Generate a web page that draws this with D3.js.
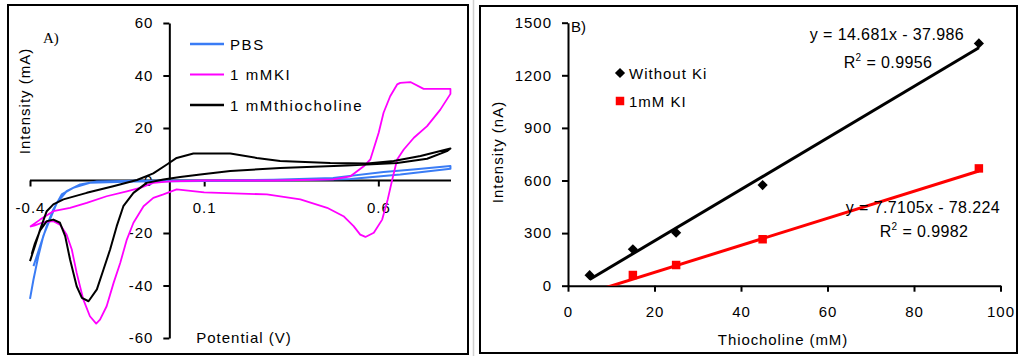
<!DOCTYPE html>
<html>
<head>
<meta charset="utf-8">
<script src="https://cdn.jsdelivr.net/npm/d3@7"></script>
<style>
body { margin: 0; background: #fff; }
svg { display: block; font-family: "Liberation Sans", Arial, sans-serif; }
</style>
</head>
<body>
<svg id="chart" width="1024" height="361"></svg>
<script>
// ---- panel A : cyclic voltammograms (potential V, current mA) ----
var potentialTicks = [-0.4, 0.1, 0.6];
var currentTicks = [-60, -40, -20, 0, 20, 40, 60];
var cvNames = ["PBS", "1 mMKI", "1 mMthiocholine"];
var cvColors = ["#3a7cf5", "#ff00ff", "#000000"];

var pbsCurve = [
  [-0.4,-45.1],[-0.39,-37.7],[-0.376,-28.8],[-0.362,-21.2],[-0.343,-14.9],[-0.323,-8.5],
  [-0.295,-4.1],[-0.256,-1.5],[-0.208,-0.4],[-0.1,-0.1],[0.1,0],[0.3,0.3],[0.47,1.0],
  [0.615,3.2],[0.7,4.2],[0.807,5.5],[0.807,4.5],[0.663,2.3],[0.52,0.6],[0.35,0.1],
  [0.1,-0.2],[-0.1,-0.4],[-0.228,-0.9],[-0.276,-2.8],[-0.309,-5.3],[-0.333,-11],
  [-0.352,-17.4],[-0.371,-25],[-0.39,-32.6]
];

var kiCurve = [
  [-0.4,-17.6],[-0.371,-14.9],[-0.333,-11.7],[-0.285,-10.4],[-0.237,-8.5],[-0.18,-6],
  [-0.122,-4.1],[-0.084,-2.8],[-0.046,-0.9],[0.002,-0.3],[0.1,0],[0.3,0],[0.47,0.4],
  [0.52,1.6],[0.558,5.4],[0.577,8],[0.601,18.2],[0.615,25.8],[0.634,32.1],[0.654,36.6],
  [0.663,37.2],[0.692,37.5],[0.73,34.9],[0.807,34.9],[0.807,33],[0.778,27],[0.74,20.7],
  [0.702,16.3],[0.673,11.8],[0.654,8],[0.64,0.4],[0.627,-7.2],[0.611,-14.9],[0.587,-19.9],
  [0.563,-21.5],[0.548,-20.6],[0.529,-17.4],[0.5,-13.6],[0.453,-10.4],[0.376,-7.2],
  [0.28,-5.3],[0.1,-4.5],[0.021,-3.4],[-0.017,-5.3],[-0.046,-6.6],[-0.074,-9.8],
  [-0.103,-16.1],[-0.122,-22.5],[-0.141,-31.4],[-0.16,-39],[-0.18,-47.9],[-0.199,-53],
  [-0.21,-54.5],[-0.228,-51.7],[-0.247,-45.3],[-0.266,-35.2],[-0.28,-26.3],[-0.295,-20.6],
  [-0.314,-16.8],[-0.333,-15.5],[-0.362,-15.9],[-0.386,-17.1],[-0.4,-17.6]
];

var thioCurve = [
  [-0.4,-30.7],[-0.386,-25],[-0.371,-18.7],[-0.352,-11.7],[-0.333,-9.1],[-0.304,-7.2],
  [-0.237,-4.7],[-0.161,-2.2],[-0.093,0.2],[-0.046,2.7],[-0.007,6.1],[0.021,8.6],
  [0.069,10.3],[0.175,10.3],[0.251,8.6],[0.318,7.4],[0.462,6.7],[0.568,6.5],[0.644,7.4],
  [0.721,9.3],[0.807,12.2],[0.797,11.2],[0.74,8.3],[0.654,6.7],[0.51,5.7],[0.318,4.8],
  [0.175,3.6],[0.089,2.3],[0.031,1.3],[-0.017,0.4],[-0.065,-0.9],[-0.103,-4.7],
  [-0.132,-9.8],[-0.151,-17.4],[-0.17,-26.3],[-0.189,-33.9],[-0.208,-41.5],[-0.232,-46],
  [-0.251,-44.7],[-0.266,-40.3],[-0.285,-30.1],[-0.299,-21.2],[-0.314,-16.1],
  [-0.333,-14.9],[-0.352,-15.5],[-0.371,-19],[-0.386,-24],[-0.395,-28]
];

// ---- panel B : calibration (thiocholine mM, current nA) ----
var concTicks = [0, 20, 40, 60, 80, 100];
var intensityTicks = [0, 300, 600, 900, 1200, 1500];
var withoutKiConc = [5, 15, 25, 45, 95];
var withoutKiValues = [60, 208, 302, 574, 1382];
var withKiConc = [15, 25, 45, 95];
var withKiValues = [61, 118, 265, 669];
var fitNames = ["Without Ki", "1mM KI"];
var fitColors = ["#000000", "#ff0000"];
var fitSlopes = [14.681, 7.7105];
var fitIntercepts = [-37.986, -78.224];
var fitR2 = ["0.9956", "0.9982"];
var fitFrom = 5, fitTo = 95;

var svg = d3.select("#chart");
svg.append("rect").attr("width", 1024).attr("height", 361).attr("fill", "#fff");

// faint separator between the two pictures
svg.append("line").attr("x1", 473.5).attr("x2", 473.5).attr("y1", 0).attr("y2", 356)
  .attr("stroke", "#d0d0d0").attr("stroke-width", 1.5);

function frame(x, y, w, h){
  svg.append("rect").attr("x", x).attr("y", y).attr("width", w).attr("height", h)
    .attr("fill", "none").attr("stroke", "#000").attr("stroke-width", 2);
}

function styleAxis(g, ls){
  g.select(".domain").attr("stroke", "#000").attr("stroke-width", 2);
  g.selectAll(".tick line").attr("stroke", "#000").attr("stroke-width", 2);
  g.selectAll(".tick text").attr("fill", "#000")
    .style("font-size", "15px").style("letter-spacing", ls + "px")
    .style("font-family", '"Liberation Sans", Arial, sans-serif');
}

// =========================== panel A ===========================
frame(8, 5, 460, 349);

var xA = d3.scaleLinear().domain([-0.4, 0.8]).range([30, 448]);
var yA = d3.scaleLinear().domain([-60, 60]).range([338, 23]);

var gxA = svg.append("g").attr("transform", "translate(0," + yA(0) + ")")
  .call(d3.axisBottom(xA).tickValues(potentialTicks).tickSize(6).tickSizeOuter(0)
    .tickPadding(16).tickFormat(function(d){ return d.toFixed(1); }));
gxA.select(".domain").attr("d", "M" + xA(-0.4) + ",0H" + (xA(0.8) + 3));
styleAxis(gxA, 1);

var gyA = svg.append("g").attr("transform", "translate(" + xA(0) + ",0)")
  .call(d3.axisLeft(yA).tickValues(currentTicks).tickSize(6).tickSizeOuter(0)
    .tickPadding(10).tickFormat(function(d){ return String(d); }));
styleAxis(gyA, 1);

var lineA = d3.line().x(function(d){ return xA(d[0]); }).y(function(d){ return yA(d[1]); });
[pbsCurve, kiCurve, thioCurve].forEach(function(c, i){
  svg.append("path").datum(c).attr("d", lineA)
    .attr("fill", "none").attr("stroke", cvColors[i])
    .attr("stroke-width", i == 1 ? 1.8 : 2).attr("stroke-linejoin", "round");
});

// legend
cvNames.forEach(function(n, i){
  var ly = 44 + i * 30.5;
  svg.append("line").attr("x1", 190).attr("x2", 224).attr("y1", ly).attr("y2", ly)
    .attr("stroke", cvColors[i]).attr("stroke-width", i == 1 ? 1.8 : 2.5);
  svg.append("text").attr("x", 230).attr("y", ly + 5.5).text(n)
    .style("font-size", "15px").style("letter-spacing", "1.6px");
});

svg.append("text").attr("x", 43).attr("y", 43).text("A)")
  .style("font-family", '"Liberation Serif", "Times New Roman", serif').style("font-size", "15px");

svg.append("text").attr("transform", "translate(30,101) rotate(-90)")
  .attr("text-anchor", "middle").text("Intensity (mA)")
  .style("font-size", "15px").style("letter-spacing", "1px");

svg.append("text").attr("x", 244).attr("y", 343).attr("text-anchor", "middle")
  .text("Potential (V)").style("font-size", "15px").style("letter-spacing", "1px");

// =========================== panel B ===========================
frame(480, 6, 537, 347);

var xB = d3.scaleLinear().domain([0, 100]).range([568, 1000.5]);
var yB = d3.scaleLinear().domain([0, 1500]).range([285.7, 22.7]);

var gxB = svg.append("g").attr("transform", "translate(0," + yB(0) + ")")
  .call(d3.axisBottom(xB).tickValues(concTicks).tickSize(6).tickSizeOuter(0)
    .tickPadding(15).tickFormat(function(d){ return String(d); }));
styleAxis(gxB, 1);

var gyB = svg.append("g").attr("transform", "translate(" + xB(0) + ",0)")
  .call(d3.axisLeft(yB).tickValues(intensityTicks).tickSize(6).tickSizeOuter(0)
    .tickPadding(10).tickFormat(function(d){ return String(d); }));
styleAxis(gyB, 1);

svg.append("clipPath").attr("id", "plotB").append("rect")
  .attr("x", xB(0)).attr("y", yB(1500)).attr("width", xB(100) - xB(0)).attr("height", yB(0) - yB(1500));

// trend lines from the fitted equations
fitSlopes.forEach(function(m, i){
  var pts = [fitFrom, fitTo].map(function(x){ return [x, m * x + fitIntercepts[i]]; });
  svg.append("line").attr("clip-path", "url(#plotB)")
    .attr("x1", xB(pts[0][0])).attr("y1", yB(pts[0][1]))
    .attr("x2", xB(pts[1][0])).attr("y2", yB(pts[1][1]))
    .attr("stroke", fitColors[i]).attr("stroke-width", 3);
});

var diamond = d3.symbol().type(d3.symbolSquare).size(52);
var square = d3.symbol().type(d3.symbolSquare).size(72);

withoutKiConc.forEach(function(c, i){
  svg.append("path").attr("d", diamond)
    .attr("transform", "translate(" + xB(c) + "," + yB(withoutKiValues[i]) + ") rotate(45)")
    .attr("fill", "#000");
});
withKiConc.forEach(function(c, i){
  svg.append("path").attr("d", square)
    .attr("transform", "translate(" + xB(c) + "," + yB(withKiValues[i]) + ")")
    .attr("fill", "#ff0000");
});

// legend
svg.append("path").attr("d", diamond).attr("transform", "translate(620,73) rotate(45)").attr("fill", "#000");
svg.append("path").attr("d", square).attr("transform", "translate(620,101)").attr("fill", "#ff0000");
fitNames.forEach(function(n, i){
  svg.append("text").attr("x", 629).attr("y", 78.5 + i * 28).text(n)
    .style("font-size", "15px").style("letter-spacing", "1px");
});

// equations
var eqPos = [[887, 39.5, 67.5], [923, 212.5, 236.5]];
fitSlopes.forEach(function(m, i){
  var b = fitIntercepts[i];
  svg.append("text").attr("x", eqPos[i][0]).attr("y", eqPos[i][1]).attr("text-anchor", "middle")
    .text("y = " + m + "x - " + Math.abs(b).toFixed(3))
    .style("font-size", "16px").style("letter-spacing", "0.4px");
  var t = svg.append("text").attr("x", eqPos[i][0] + 1).attr("y", eqPos[i][2]).attr("text-anchor", "middle")
    .style("font-size", "16px").style("letter-spacing", "0.4px");
  t.append("tspan").text("R");
  t.append("tspan").attr("dy", -7).style("font-size", "10px").text("2");
  t.append("tspan").attr("dy", 7).text(" = " + fitR2[i]);
});

svg.append("text").attr("x", 571).attr("y", 32).text("B)")
  .style("font-size", "15px");

svg.append("text").attr("transform", "translate(503,152) rotate(-90)")
  .attr("text-anchor", "middle").text("Intensity (nA)")
  .style("font-size", "15px").style("letter-spacing", "1px");

svg.append("text").attr("x", 783).attr("y", 345).attr("text-anchor", "middle")
  .text("Thiocholine (mM)").style("font-size", "15px").style("letter-spacing", "0.9px");
</script>
</body>
</html>
